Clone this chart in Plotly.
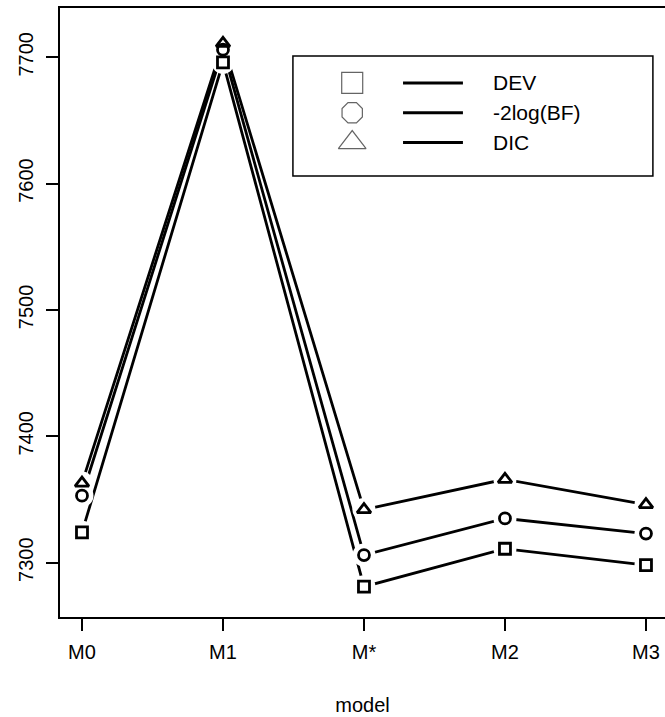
import plotly.graph_objects as go

models = ["M0", "M1", "M*", "M2", "M3"]
dev = [7324, 7696, 7281, 7311, 7298]
bf = [7353, 7706, 7306, 7335, 7323]
dic = [7363, 7711, 7342, 7366, 7346]
series_names = ["DEV", "-2log(BF)", "DIC"]
y_ticks = [7300, 7400, 7500, 7600, 7700]

xpos = list(range(1, len(models) + 1))
FONT = "Liberation Sans, Arial, sans-serif"

fig = go.Figure()
series = [(dev, "square-open", 11), (bf, "circle-open", 11), (dic, "triangle-up-open", 12)]

for vals, _, _ in series:
    fig.add_trace(go.Scatter(x=xpos, y=vals, mode="lines",
                             line=dict(color="black", width=2.8), hoverinfo="skip"))
for vals, _, _ in series:
    fig.add_trace(go.Scatter(x=xpos, y=vals, mode="markers",
                             marker=dict(symbol="circle", size=23, color="white",
                                         line=dict(width=0)), hoverinfo="skip"))
for vals, sym, sz in series:
    fig.add_trace(go.Scatter(x=xpos, y=vals, mode="markers",
                             marker=dict(symbol=sym, size=sz, color="black",
                                         line=dict(width=2.8, color="black"))))

# custom legend (positions in plot-area fractions)
leg_rows = [0.877, 0.828, 0.779]
leg_syms = ["square-open", "octagon-open", "triangle-up-open"]
fig.add_trace(go.Scatter(x=[0.483] * 3, y=leg_rows, mode="markers", xaxis="x2", yaxis="y2",
                         marker=dict(symbol=leg_syms, size=[21, 22, 24], color="#222",
                                     line=dict(width=1.2, color="#222")),
                         hoverinfo="skip"))

shapes = [dict(type="rect", xref="paper", yref="paper", x0=0.385, x1=0.980, y0=0.724, y1=0.921,
               line=dict(color="black", width=1.5), fillcolor="white", layer="below")]
annotations = []
for yy, name in zip(leg_rows, series_names):
    shapes.append(dict(type="line", xref="paper", yref="paper", x0=0.567, x1=0.666, y0=yy, y1=yy,
                       line=dict(color="black", width=3)))
    annotations.append(dict(xref="paper", yref="paper", x=0.712, y=yy, text=name, showarrow=False,
                            xanchor="left", yanchor="middle",
                            font=dict(family=FONT, size=21, color="black")))

fig.update_layout(
    width=665, height=717,
    margin=dict(l=60, r=0, t=8, b=100),
    paper_bgcolor="white", plot_bgcolor="white",
    showlegend=False,
    shapes=shapes, annotations=annotations,
    xaxis=dict(range=[0.844, 5.135], tickvals=xpos, ticktext=models,
               showgrid=False, zeroline=False, showline=True, mirror=True,
               linecolor="black", linewidth=1.5, ticks="outside", ticklen=12,
               tickwidth=1.5, tickcolor="black", ticklabelstandoff=4,
               tickfont=dict(family=FONT, size=20, color="black"),
               title=dict(text="model", font=dict(family=FONT, size=20, color="black"), standoff=36)),
    yaxis=dict(range=[7257, 7739], tickvals=y_ticks,
               showgrid=False, zeroline=False, showline=True, mirror=False,
               linecolor="black", linewidth=1.5, ticks="outside", ticklen=12,
               tickwidth=1.5, tickcolor="black", tickangle=-90, ticklabelstandoff=5,
               tickfont=dict(family=FONT, size=20, color="black")),
    xaxis2=dict(overlaying="x", range=[0, 1], visible=False),
    yaxis2=dict(overlaying="y", range=[0, 1], visible=False),
)

fig.write_html("out.html")
